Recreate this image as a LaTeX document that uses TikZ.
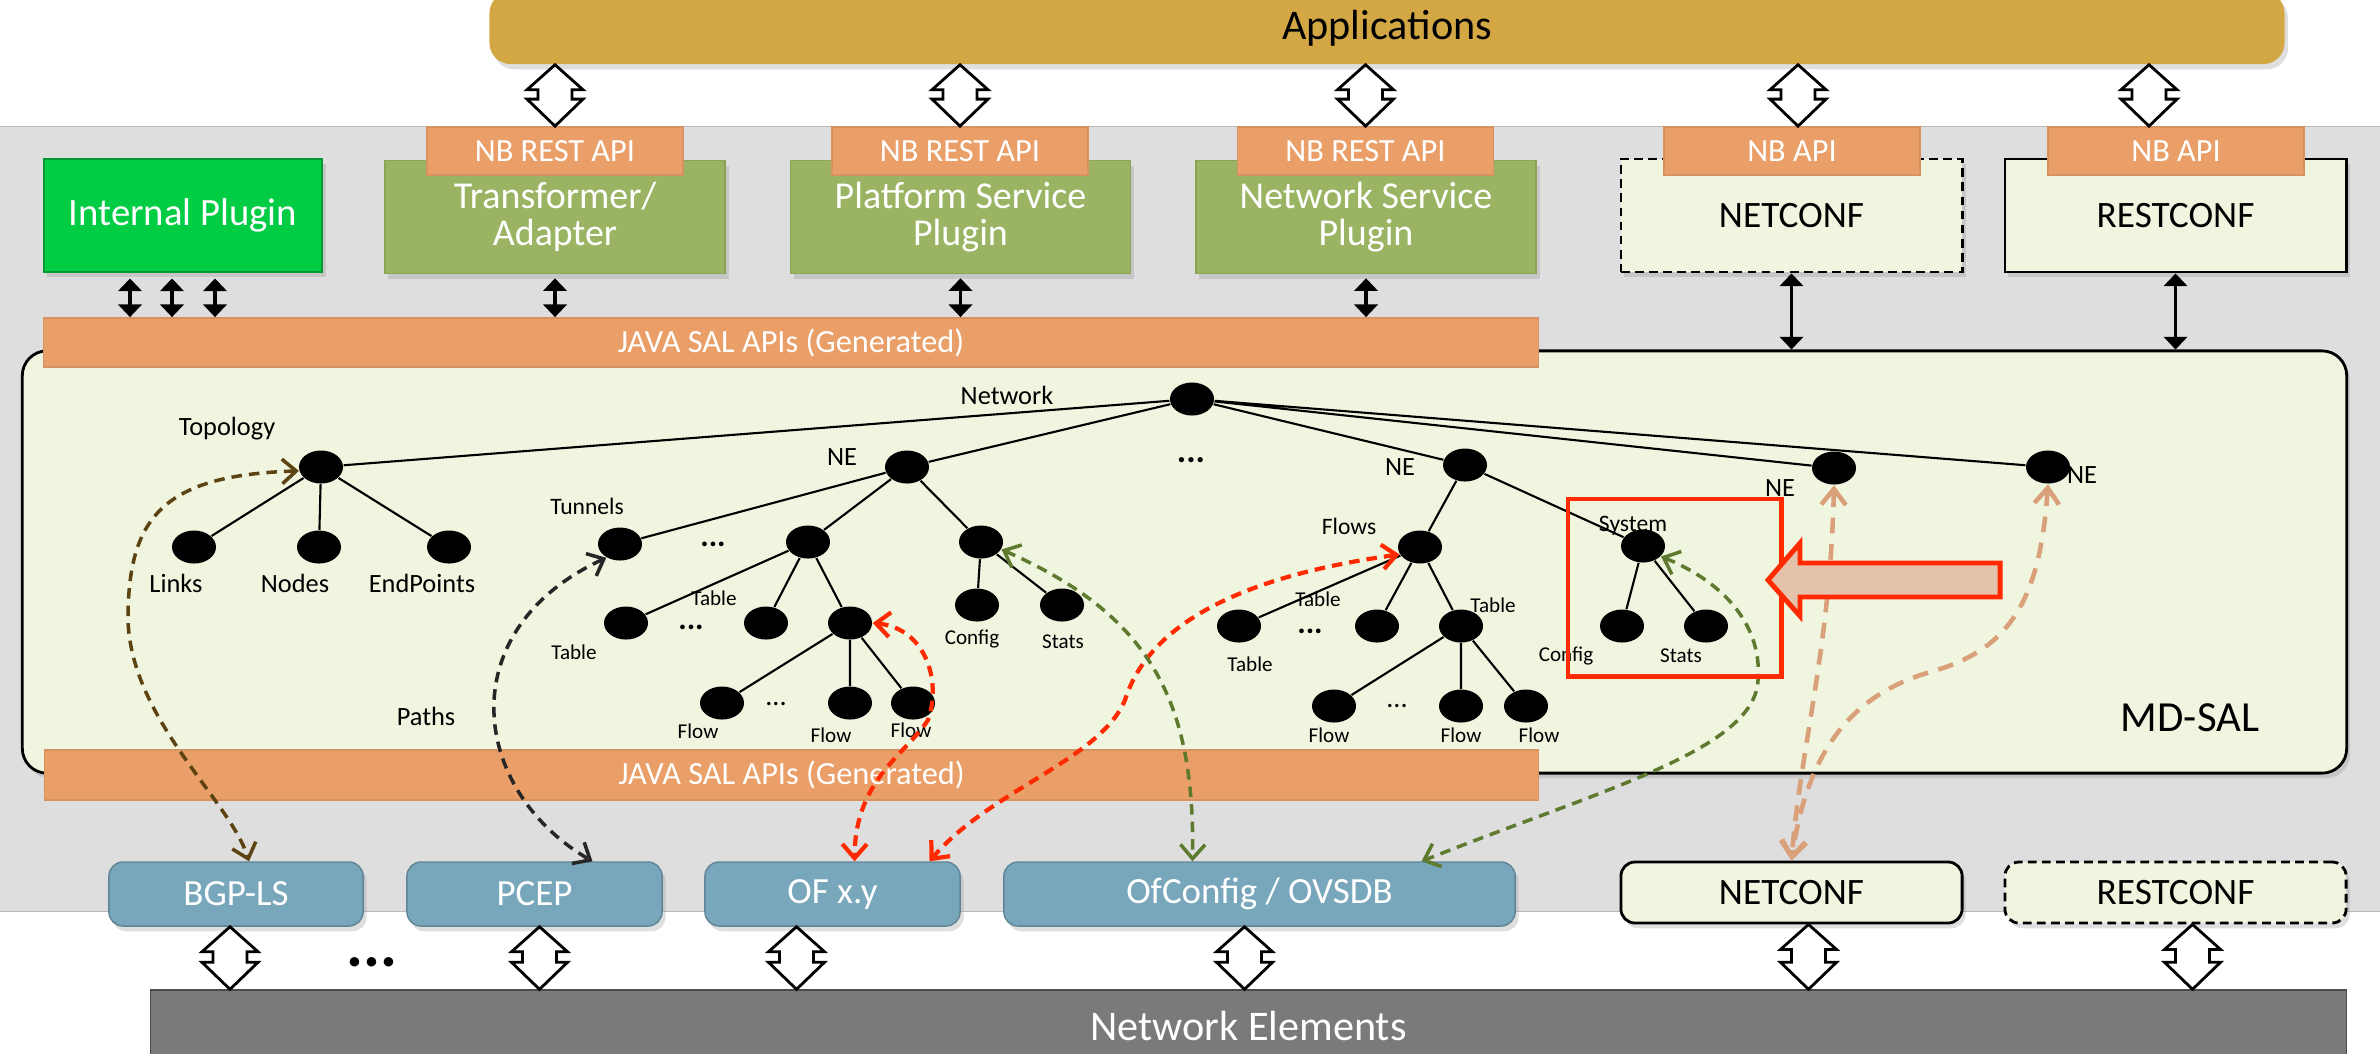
\documentclass[tikz,border=0pt]{standalone}
\usepackage{fontspec}
\setmainfont{Carlito}
\usetikzlibrary{arrows.meta, calc, shapes.geometric, shadows}
\definecolor{appgold}{RGB}{212,167,69}
\definecolor{panelgray}{RGB}{222,222,222}
\definecolor{apiorange}{RGB}{234,159,105}
\definecolor{plugingreen}{RGB}{155,180,99}
\definecolor{intgreen}{RGB}{0,204,68}
\definecolor{mdsalfill}{RGB}{240,245,223}
\definecolor{sbblue}{RGB}{120,166,187}
\definecolor{negray}{RGB}{122,122,122}
\definecolor{hired}{RGB}{255,42,0}
\definecolor{bigarrfill}{RGB}{229,195,170}
\definecolor{bgpbrown}{RGB}{92,67,17}
\definecolor{ovsolive}{RGB}{94,122,46}
\definecolor{ncpeach}{RGB}{217,160,122}

% hollow double arrow, #1 upper end, #2 lower end (x taken from #1)
\newcommand{\fatlink}[2]{%
  \draw[fatarr] let \p1=#1, \p2=#2 in
    (\x1,\y1) -- (\x1+0.28cm,\y1-0.25cm) -- (\x1+0.17cm,\y1-0.25cm)
    -- (\x1+0.17cm,\y2+0.27cm) -- (\x1+0.28cm,\y2+0.27cm) -- (\x1,\y2)
    -- (\x1-0.28cm,\y2+0.27cm) -- (\x1-0.17cm,\y2+0.27cm)
    -- (\x1-0.17cm,\y1-0.25cm) -- (\x1-0.28cm,\y1-0.25cm) -- cycle;}

\begin{document}
\begin{tikzpicture}[
  x=0.01cm, y=-0.01cm,
  shadowed/.style={drop shadow={opacity=0.25, shadow xshift=1pt, shadow yshift=-1.5pt}},
  apibar/.style={rectangle, fill=apiorange, draw=apiorange!92!black, line width=0.5pt, text=white, font=\fontsize{9.2}{11}\selectfont, inner sep=0pt},
  nbapi/.style={apibar, minimum width=2.56cm, minimum height=0.48cm},
  plugin/.style={rectangle, fill=plugingreen, draw=plugingreen!90!black, text=white, align=center, font=\fontsize{10.8}{10.4}\selectfont, minimum width=3.4cm, minimum height=1.13cm, inner sep=0pt, shadowed},
  confbox/.style={rectangle, fill=mdsalfill, draw=black, line width=0.8pt, font=\fontsize{10.6}{12}\selectfont, minimum width=3.41cm, inner sep=0pt, shadowed},
  sbbox/.style={rectangle, rounded corners=4pt, fill=sbblue, draw=sbblue!80!black, text=white, font=\fontsize{10.5}{12}\selectfont, minimum height=0.64cm, inner sep=0pt, shadowed},
  tnode/.style={ellipse, fill=black, minimum width=0.44cm, minimum height=0.33cm, inner sep=0pt},
  lbl/.style={font=\fontsize{7.5}{9}\selectfont, inner sep=0pt},
  mlbl/.style={font=\fontsize{6.7}{8}\selectfont, inner sep=0pt},
  slbl/.style={font=\fontsize{6}{7}\selectfont, inner sep=0pt},
  dots/.style={font=\bfseries\fontsize{9}{10}\selectfont, inner sep=0pt},
  branch/.style={line width=0.6pt},
  dbl/.style={{Triangle[length=3.6pt,width=6.6pt]}-{Triangle[length=3.6pt,width=6.6pt]}, line width=0.9pt},
  fatarr/.style={draw=black, fill=white, line width=0.8pt, line join=miter},
  flowlink/.style={dash pattern=on 3pt off 2pt, line width=1pt, {Straight Barb[length=4pt,width=7pt]}-{Straight Barb[length=4pt,width=7pt]}},
  nclink/.style={dash pattern=on 4.5pt off 3pt, line width=1.3pt, ncpeach, {Straight Barb[length=4.5pt,width=7pt]}-{Straight Barb[length=4.5pt,width=7pt]}}
]
\useasboundingbox (0,0) rectangle (2380,1053);

% controller panel
\node[fill=panelgray, draw=gray!55, minimum width=23.9cm, minimum height=7.84cm, inner sep=0pt] (panel) at (1195,519) {};

% applications
\node[rectangle, rounded corners=6pt, fill=appgold, minimum width=17.94cm, minimum height=0.72cm, font=\fontsize{12}{14}\selectfont, shadowed] (app) at (1387,28) {Applications};

% northbound plugins
\node[rectangle, fill=intgreen, draw=intgreen!75!black, line width=0.8pt, text=white, font=\fontsize{11}{13}\selectfont, minimum width=2.78cm, minimum height=1.13cm, shadowed] (intp) at (183,215.5) {Internal Plugin};
\node[plugin] (tra) at (555,217) {Transformer/\\Adapter};
\node[plugin] (psp) at (960.5,217) {Platform Service\\Plugin};
\node[plugin] (nsp) at (1366,217) {Network Service\\Plugin};
\node[confbox, minimum height=1.13cm, dash pattern=on 2.5pt off 1.5pt] (ncf) at (1791.5,215.5) {NETCONF};
\node[confbox, minimum height=1.13cm] (rcf) at (2175.5,215.5) {RESTCONF};

\node[nbapi] (nb1) at (555,151) {NB REST API};
\node[nbapi] (nb2) at (960,151) {NB REST API};
\node[nbapi] (nb3) at (1365.5,151) {NB REST API};
\node[nbapi] (nb4) at (1792,151) {NB API};
\node[nbapi] (nb5) at (2176,151) {NB API};

\fatlink{(app.south -| nb1.north)}{(nb1.north)}
\fatlink{(app.south -| nb2.north)}{(nb2.north)}
\fatlink{(app.south -| nb3.north)}{(nb3.north)}
\fatlink{($(app.south -| nb4.north)+(6,0)$)}{(nb4.north)}
\fatlink{($(app.south -| nb5.north)+(-27,0)$)}{(nb5.north)}

% MD-SAL
\node[rectangle, rounded corners=7pt, fill=mdsalfill, draw=black, line width=0.8pt, minimum width=23.23cm, minimum height=4.22cm, shadowed] (md) at (1184.5,562) {};
\node[font=\fontsize{12.2}{14}\selectfont, inner sep=0pt] (mdl) at (2190,718) {MD-SAL};
\node[apibar, minimum width=14.94cm, minimum height=0.49cm] (jtop) at (791,342.5) {JAVA SAL APIs (Generated)};
\node[apibar, minimum width=14.93cm, minimum height=0.50cm] (jbot) at (791.5,775) {JAVA SAL APIs (Generated)};

\draw[dbl] ($(intp.south)+(-53,5)$) -- ($(intp.south |- jtop.north)+(-53,0)$);
\draw[dbl] ($(intp.south)+(-11,5)$) -- ($(intp.south |- jtop.north)+(-11,0)$);
\draw[dbl] ($(intp.south)+(32,5)$) -- ($(intp.south |- jtop.north)+(32,0)$);
\draw[dbl] ($(tra.south)+(0,4)$) -- (tra.south |- jtop.north);
\draw[dbl] ($(psp.south)+(0,4)$) -- (psp.south |- jtop.north);
\draw[dbl] ($(nsp.south)+(0,4)$) -- (nsp.south |- jtop.north);
\draw[dbl] (ncf.south) -- (ncf.south |- md.north);
\draw[dbl] (rcf.south) -- (rcf.south |- md.north);

% southbound plugins
\node[sbbox, minimum width=2.54cm] (bgp) at (236,894) {BGP-LS};
\node[sbbox, minimum width=2.55cm] (pcep) at (534.5,894) {PCEP};
\node[sbbox, minimum width=2.55cm] (ofxy) at (832.5,894) {OF x.y};
\node[sbbox, minimum width=5.11cm] (ofc) at (1259.5,894) {OfConfig / OVSDB};
\node[confbox, rounded corners=4pt, minimum height=0.61cm] (ncf2) at (1791.5,892.5) {NETCONF};
\node[confbox, rounded corners=4pt, minimum height=0.61cm, dash pattern=on 2.5pt off 1.5pt] (rcf2) at (2175.5,892.5) {RESTCONF};

\node[rectangle, fill=negray, draw=black!70, text=white, font=\fontsize{12}{14}\selectfont, minimum width=21.95cm, minimum height=0.72cm] (nel) at (1248.5,1026) {Network Elements};
\node[font=\bfseries\fontsize{18}{20}\selectfont, inner sep=0pt] (bdots) at (372,962) {...};

\fatlink{($(bgp.south)+(-6,0)$)}{(nel.north)}
\fatlink{($(pcep.south)+(5,0)$)}{(nel.north)}
\fatlink{($(ofxy.south)+(-36,0)$)}{(nel.north)}
\fatlink{($(ofc.south)+(-15,0)$)}{(nel.north)}
\fatlink{($(ncf2.south)+(17,0)$)}{(nel.north)}
\fatlink{($(rcf2.south)+(17,0)$)}{(nel.north)}

% data tree
\node[tnode] (net) at (1192,399) {};
\node[tnode] (topo) at (321,467) {};
\node[tnode] (lnk) at (194,547) {};
\node[tnode] (nod) at (319,547) {};
\node[tnode] (endp) at (449,547) {};
\node[tnode] (ne1) at (907,467) {};
\node[tnode] (tun) at (620,544) {};
\node[tnode] (tbl) at (808,542) {};
\node[tnode] (cfs) at (981,542) {};
\node[tnode] (t1) at (626,623) {};
\node[tnode] (t2) at (766,623) {};
\node[tnode] (fp) at (850,623) {};
\node[tnode] (f1) at (722,703) {};
\node[tnode] (f2) at (850,703) {};
\node[tnode] (f3) at (913,703) {};
\node[tnode] (c1) at (977,605) {};
\node[tnode] (s1) at (1062,605) {};
\node[tnode] (ne2) at (1465,465) {};
\node[tnode] (flw) at (1420,547) {};
\node[tnode] (u1) at (1239,626) {};
\node[tnode] (u2) at (1377,626) {};
\node[tnode] (tp) at (1461,626) {};
\node[tnode] (g1) at (1334,706) {};
\node[tnode] (g2) at (1461,706) {};
\node[tnode] (g3) at (1526,706) {};
\node[tnode] (sys) at (1643,546) {};
\node[tnode] (c2) at (1622,626) {};
\node[tnode] (s2) at (1706,626) {};
\node[tnode] (ne3) at (1834,468) {};
\node[tnode] (ne4) at (2048,467) {};

\draw[branch] (net) -- (topo) (net) -- (ne1) (net) -- (ne2) (net) -- (ne3) (net) -- (ne4);
\draw[branch] (topo) -- (lnk) (topo) -- (nod) (topo) -- (endp);
\draw[branch] (ne1) -- (tun) (ne1) -- (tbl) (ne1) -- (cfs);
\draw[branch] (tbl) -- (t1) (tbl) -- (t2) (tbl) -- (fp);
\draw[branch] (fp) -- (f1) (fp) -- (f2) (fp) -- (f3);
\draw[branch] (cfs) -- (c1) (cfs) -- (s1);
\draw[branch] (ne2) -- (flw) (ne2) -- (sys);
\draw[branch] (flw) -- (u1) (flw) -- (u2) (flw) -- (tp);
\draw[branch] (tp) -- (g1) (tp) -- (g2) (tp) -- (g3);
\draw[branch] (sys) -- (c2) (sys) -- (s2);

% tree labels
\node[lbl] (lnet) at (1007,395) {Network};
\node[lbl] (ltopo) at (227,429) {Topology};
\node[lbl] (llnk) at (176,583) {Links};
\node[lbl] (lnod) at (295,583) {Nodes};
\node[lbl] (lendp) at (422,583) {EndPoints};
\node[lbl] (lne1) at (842,457) {NE};
\node[lbl] (lne2) at (1400,467) {NE};
\node[lbl] (lne3) at (1780,488) {NE};
\node[lbl] (lne4) at (2082,475) {NE};
\node[lbl] (lpath) at (426,716) {Paths};
\node[mlbl] (ltun) at (587,506) {Tunnels};
\node[mlbl] (lflw) at (1349,526) {Flows};
\node[mlbl] (lsys) at (1633,526) {System};
\node[slbl] (lt1) at (574,652) {Table};
\node[slbl] (lt2) at (714,598) {Table};
\node[slbl] (lf1) at (698,731) {Flow};
\node[slbl] (lf2) at (831,735) {Flow};
\node[slbl] (lf3) at (911,730) {Flow};
\node[slbl] (lc1) at (972,639) {Config};
\node[slbl] (ls1) at (1063,642) {Stats};
\node[slbl] (lu1) at (1250,664) {Table};
\node[slbl] (lu2) at (1318,599) {Table};
\node[slbl] (ltp) at (1493,605) {Table};
\node[slbl] (lg1) at (1329,735) {Flow};
\node[slbl] (lg2) at (1461,735) {Flow};
\node[slbl] (lg3) at (1539,735) {Flow};
\node[slbl] (lc2) at (1566,656) {Config};
\node[slbl] (ls2) at (1681,656) {Stats};
\node[dots, font=\bfseries\fontsize{10}{11}\selectfont] (d1) at (1191,460) {...};
\node[dots] (d2) at (713,544) {...};
\node[dots] (d3) at (691,627) {...};
\node[dots, font=\fontsize{8}{9}\selectfont] (d4) at (776,704) {...};
\node[dots] (d5) at (1310,631) {...};
\node[dots, font=\fontsize{8}{9}\selectfont] (d6) at (1397,706) {...};

% plugin to model links
\draw[flowlink, bgpbrown] (topo.190) .. controls (160,475) and (128,520) .. (128,620) .. controls (131,720) and (230,800) .. ($(bgp.north)+(13,0)$);
\draw[flowlink, black!85] (tun.225) .. controls (450,630) and (470,790) .. ($(pcep.north)+(58,0)$);
\draw[flowlink, hired, line width=1.2pt] (fp.east) .. controls (925,628) and (942,680) .. (928,720) .. controls (905,755) and (855,780) .. ($(ofxy.north)+(22,0)$);
\draw[flowlink, hired, line width=1.2pt] (flw.200) .. controls (1250,575) and (1150,620) .. (1125,700) .. controls (1100,760) and (990,790) .. ($(ofxy.north)+(97,0)$);
\draw[flowlink, ovsolive] (cfs.340) .. controls (1150,615) and (1195,700) .. ($(ofc.north)+(-67,0)$);
\draw[flowlink, ovsolive] (sys.330) .. controls (1730,585) and (1762,630) .. (1758,680) .. controls (1755,750) and (1600,790) .. ($(ofc.north)+(162,0)$);
\draw[nclink] (ne3.south) .. controls (1830,650) and (1800,750) .. (ncf2.north);
\draw[nclink] (ne4.south) .. controls (2040,600) and (2010,650) .. (1930,672) .. controls (1870,690) and (1810,730) .. (ncf2.north);

% highlight
\node[draw=hired, line width=1.4pt, minimum width=2.13cm, minimum height=1.77cm, inner sep=0pt] (hl) at (1674.5,587.5) {};
\draw[hired, line width=1.4pt, fill=bigarrfill, line join=miter] (2000,563) -- (1800,563) -- (1800,543) -- (1768,580) -- (1800,616) -- (1800,597) -- (2000,597) -- cycle;
\end{tikzpicture}
\end{document}
